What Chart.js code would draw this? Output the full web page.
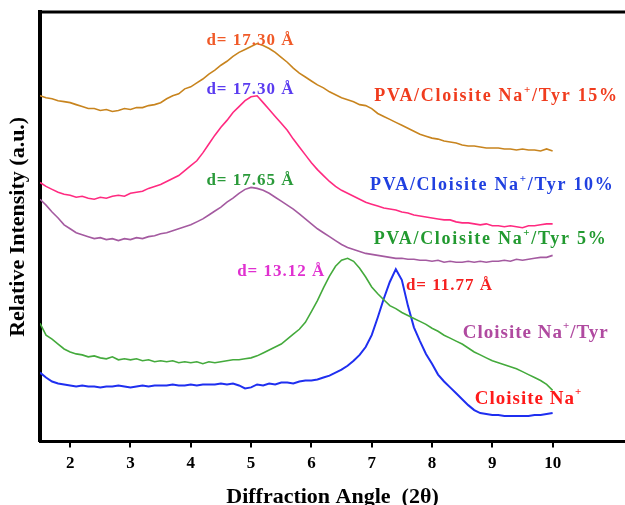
<!DOCTYPE html>
<html lang="en">
<head>
  <meta charset="UTF-8">
  <title>XRD patterns</title>
  <style>
    body {
      margin: 0;
      background: #fff;
    }
  </style>
</head>
<body>
  <canvas id="xrdChart" width="625" height="505"></canvas>

  <script src="https://cdn.jsdelivr.net/npm/chart.js"></script>
  <script>
    // diffraction angle 2θ (degrees)
    const angles = [
      1.5, 1.6, 1.7, 1.8, 1.9, 2.0, 2.1, 2.2, 2.3, 2.4,
      2.5, 2.6, 2.7, 2.8, 2.9, 3.0, 3.1, 3.2, 3.3, 3.4,
      3.5, 3.6, 3.7, 3.8, 3.9, 4.0, 4.1, 4.2, 4.3, 4.4,
      4.5, 4.6, 4.7, 4.8, 4.9, 5.0, 5.1, 5.2, 5.3, 5.4,
      5.5, 5.6, 5.7, 5.8, 5.9, 6.0, 6.1, 6.2, 6.3, 6.4,
      6.5, 6.6, 6.7, 6.8, 6.9, 7.0, 7.1, 7.2, 7.3, 7.4,
      7.5, 7.6, 7.7, 7.8, 7.9, 8.0, 8.1, 8.2, 8.3, 8.4,
      8.5, 8.6, 8.7, 8.8, 8.9, 9.0, 9.1, 9.2, 9.3, 9.4,
      9.5, 9.6, 9.7, 9.8, 9.9, 10.0
    ];
    const xTicks = [2, 3, 4, 5, 6, 7, 8, 9, 10];

    // relative intensity (a.u.), curves stacked with offsets as in the figure
    const tyr15 = [
      351, 349, 348, 346, 345, 344, 342, 340, 338, 338,
      336, 337, 335, 336, 338, 337, 339, 339, 341, 342,
      344, 348, 351, 353, 358, 360, 364, 368, 373, 377,
      382, 386, 391, 395, 398, 401, 404, 402, 399, 395,
      390, 385, 379, 374, 370, 366, 362, 359, 355, 352,
      349, 347, 345, 342, 341, 338, 333, 330, 327, 324,
      321, 318, 315, 312, 310, 308, 307, 305, 304, 303,
      301, 300, 300, 299, 298, 298, 298, 297, 297, 296,
      297, 296, 296, 295, 297, 295
    ];
    const tyr10 = [
      263, 259, 256, 253, 251, 250, 248, 249, 247, 246,
      248, 247, 249, 250, 249, 252, 253, 254, 257, 259,
      261, 264, 267, 270, 275, 280, 285, 293, 302, 311,
      319, 326, 334, 340, 346, 350, 351, 344, 337, 330,
      323, 316, 307, 299, 291, 283, 276, 270, 264, 259,
      255, 252, 249, 246, 243, 241, 239, 237, 236, 235,
      233, 232, 230, 229, 228, 227, 226, 225, 225, 223,
      222, 222, 221, 220, 221, 219, 219, 218, 219, 218,
      217, 219, 219, 220, 221, 221
    ];
    const tyr5 = [
      246, 240, 233, 227, 220, 216, 212, 210, 208, 206,
      207, 205, 206, 204, 206, 205, 207, 206, 208, 209,
      211, 212, 214, 216, 218, 220, 223, 226, 230, 234,
      238, 243, 247, 252, 256, 258, 257, 255, 252, 248,
      244, 240, 236, 231, 226, 221, 216, 212, 208, 204,
      200, 197, 195, 193, 191, 190, 189, 188, 187, 186,
      186, 185, 185, 184, 184, 183, 184, 182, 183, 182,
      182, 183, 182, 183, 182, 183, 183, 184, 183, 185,
      184, 185, 186, 187, 187, 189
    ];
    const cloisiteTyr = [
      120, 108, 104, 99, 94, 91, 89, 88, 86, 87,
      85, 84, 86, 83, 84, 83, 84, 82, 83, 81,
      82, 81, 82, 80, 81, 80, 81, 79, 81, 80,
      81, 82, 83, 83, 84, 85, 87, 90, 93, 96,
      99, 104, 109, 114, 121, 132, 143, 156, 168, 178,
      184, 186, 183, 176, 167, 157, 150, 144, 138, 135,
      131, 128, 125, 122, 119, 115, 112, 108, 105, 102,
      99, 95, 91, 88, 85, 82, 80, 78, 76, 74,
      71, 68, 65, 62, 58, 52
    ];
    const cloisiteNa = [
      70, 65, 61, 59, 58, 57, 56, 57, 56, 56,
      55, 56, 56, 57, 56, 55, 56, 57, 56, 57,
      57, 57, 58, 57, 57, 58, 57, 58, 58, 58,
      59, 58, 59, 57, 54, 55, 58, 57, 59, 58,
      60, 60, 59, 61, 62, 62, 63, 65, 67, 70,
      73, 77, 82, 88, 96, 108, 126, 145, 162, 175,
      164, 138, 116, 102, 89, 79, 68, 61, 55, 49,
      43, 37, 32, 29, 28, 27, 27, 26, 26, 26,
      26, 26, 27, 27, 28, 29
    ];

    const seriesNames = ['PVA/Cloisite Na+/Tyr 15%', 'PVA/Cloisite Na+/Tyr 10%',
      'PVA/Cloisite Na+/Tyr 5%', 'Cloisite Na+/Tyr', 'Cloisite Na+'];

    const serif = "'Liberation Serif', 'Times New Roman', serif";

    // text labels placed in data coordinates (angle, intensity)
    const notes = [
      { x: 4.99, y: 407, size: 17, gap: 1, color: '#f05a28', parts: [['d= 17.30 Å']] },
      { x: 4.99, y: 357, size: 17, gap: 1, color: '#5a3cf0', parts: [['d= 17.30 Å']] },
      { x: 4.99, y: 265, size: 17, gap: 1, color: '#2a9a3a', parts: [['d= 17.65 Å']] },
      { x: 5.50, y: 173, size: 17, gap: 1, color: '#e030d0', parts: [['d= 13.12 Å']] },
      { x: 8.29, y: 158, size: 17, gap: 1, color: '#f52020', parts: [['d= 11.77 Å']] },
      { x: 9.07, y: 350, size: 18, gap: 1.7, color: '#f03c1e', parts: [['PVA/Cloisite Na'], ['+', 1], ['/Tyr 15%']] },
      { x: 9.00, y: 260, size: 18, gap: 1.7, color: '#2040e0', parts: [['PVA/Cloisite Na'], ['+', 1], ['/Tyr 10%']] },
      { x: 8.97, y: 205, size: 18, gap: 1.7, color: '#229a30', parts: [['PVA/Cloisite Na'], ['+', 1], ['/Tyr 5%']] },
      { x: 9.72, y: 110, size: 19, gap: 1, color: '#b04aa0', parts: [['Cloisite Na'], ['+', 1], ['/Tyr']] },
      { x: 9.60, y: 43, size: 19, gap: 1, color: '#ff1a1a', parts: [['Cloisite Na'], ['+', 1]] }
    ];

    const frame = {
      id: 'frame',
      afterDatasetsDraw(chart) {
        const { ctx, chartArea, scales } = chart;
        ctx.save();
        // top border
        ctx.strokeStyle = '#000';
        ctx.lineWidth = 3;
        ctx.beginPath();
        ctx.moveTo(chartArea.left - 2, chartArea.top);
        ctx.lineTo(chartArea.right, chartArea.top);
        ctx.stroke();

        ctx.textBaseline = 'middle';
        notes.forEach(n => {
          const cx = scales.x.getPixelForValue(n.x);
          const cy = scales.y.getPixelForValue(n.y);
          const big = 'bold ' + n.size + 'px ' + serif;
          const small = 'bold ' + Math.round(n.size * 0.6) + 'px ' + serif;
          ctx.letterSpacing = n.gap + 'px';
          let w = 0;
          n.parts.forEach(p => {
            ctx.font = p[1] ? small : big;
            w += ctx.measureText(p[0]).width;
          });
          let x = cx - w / 2;
          ctx.fillStyle = n.color;
          ctx.textAlign = 'left';
          n.parts.forEach(p => {
            ctx.font = p[1] ? small : big;
            ctx.fillText(p[0], x, p[1] ? cy - n.size * 0.35 : cy);
            x += ctx.measureText(p[0]).width;
          });
        });
        ctx.restore();
      }
    };

    const toPoints = vals => vals.map((v, i) => ({ x: angles[i], y: v }));

    const ctx = document.getElementById('xrdChart').getContext('2d');
    new Chart(ctx, {
      type: 'line',
      data: {
        datasets: [
          { label: seriesNames[0], data: toPoints(tyr15), borderColor: '#c8841e', borderWidth: 1.6 },
          { label: seriesNames[1], data: toPoints(tyr10), borderColor: '#ff2a80', borderWidth: 1.6 },
          { label: seriesNames[2], data: toPoints(tyr5), borderColor: '#a45aa0', borderWidth: 1.6 },
          { label: seriesNames[3], data: toPoints(cloisiteTyr), borderColor: '#44aa3c', borderWidth: 1.6 },
          { label: seriesNames[4], data: toPoints(cloisiteNa), borderColor: '#1f2ff0', borderWidth: 2 }
        ]
      },
      options: {
        responsive: false,
        animation: false,
        elements: { point: { radius: 0 }, line: { tension: 0 } },
        layout: { padding: { left: 0, top: 12, right: 0, bottom: 0 } },
        plugins: {
          legend: { display: false },
          tooltip: { enabled: false }
        },
        scales: {
          x: {
            type: 'linear',
            min: 1.5,
            max: 11.2,
            afterBuildTicks: scale => {
              scale.ticks = xTicks.map(v => ({ value: v }));
            },
            ticks: {
              color: '#000',
              padding: 6,
              font: { family: serif, size: 17, weight: 'bold', lineHeight: 1.2 }
            },
            grid: {
              display: true,
              drawOnChartArea: false,
              drawTicks: true,
              tickLength: 6,
              color: '#000',
              lineWidth: 2
            },
            border: { display: true, color: '#000', width: 3 },
            title: {
              display: true,
              text: 'Diffraction Angle  (2θ)',
              color: '#000',
              font: { family: serif, size: 22, weight: 'bold', lineHeight: 1 },
              padding: { top: 6, bottom: -3 }
            }
          },
          y: {
            min: 0,
            max: 436,
            ticks: { display: false },
            grid: { display: false, drawTicks: false },
            border: { display: true, color: '#000', width: 4 },
            title: {
              display: true,
              text: 'Relative Intensity (a.u.)',
              color: '#000',
              font: { family: serif, size: 22, weight: 'bold', lineHeight: 1 },
              padding: { top: 7, bottom: 11 }
            }
          }
        }
      },
      plugins: [frame]
    });
  </script>
</body>
</html>
